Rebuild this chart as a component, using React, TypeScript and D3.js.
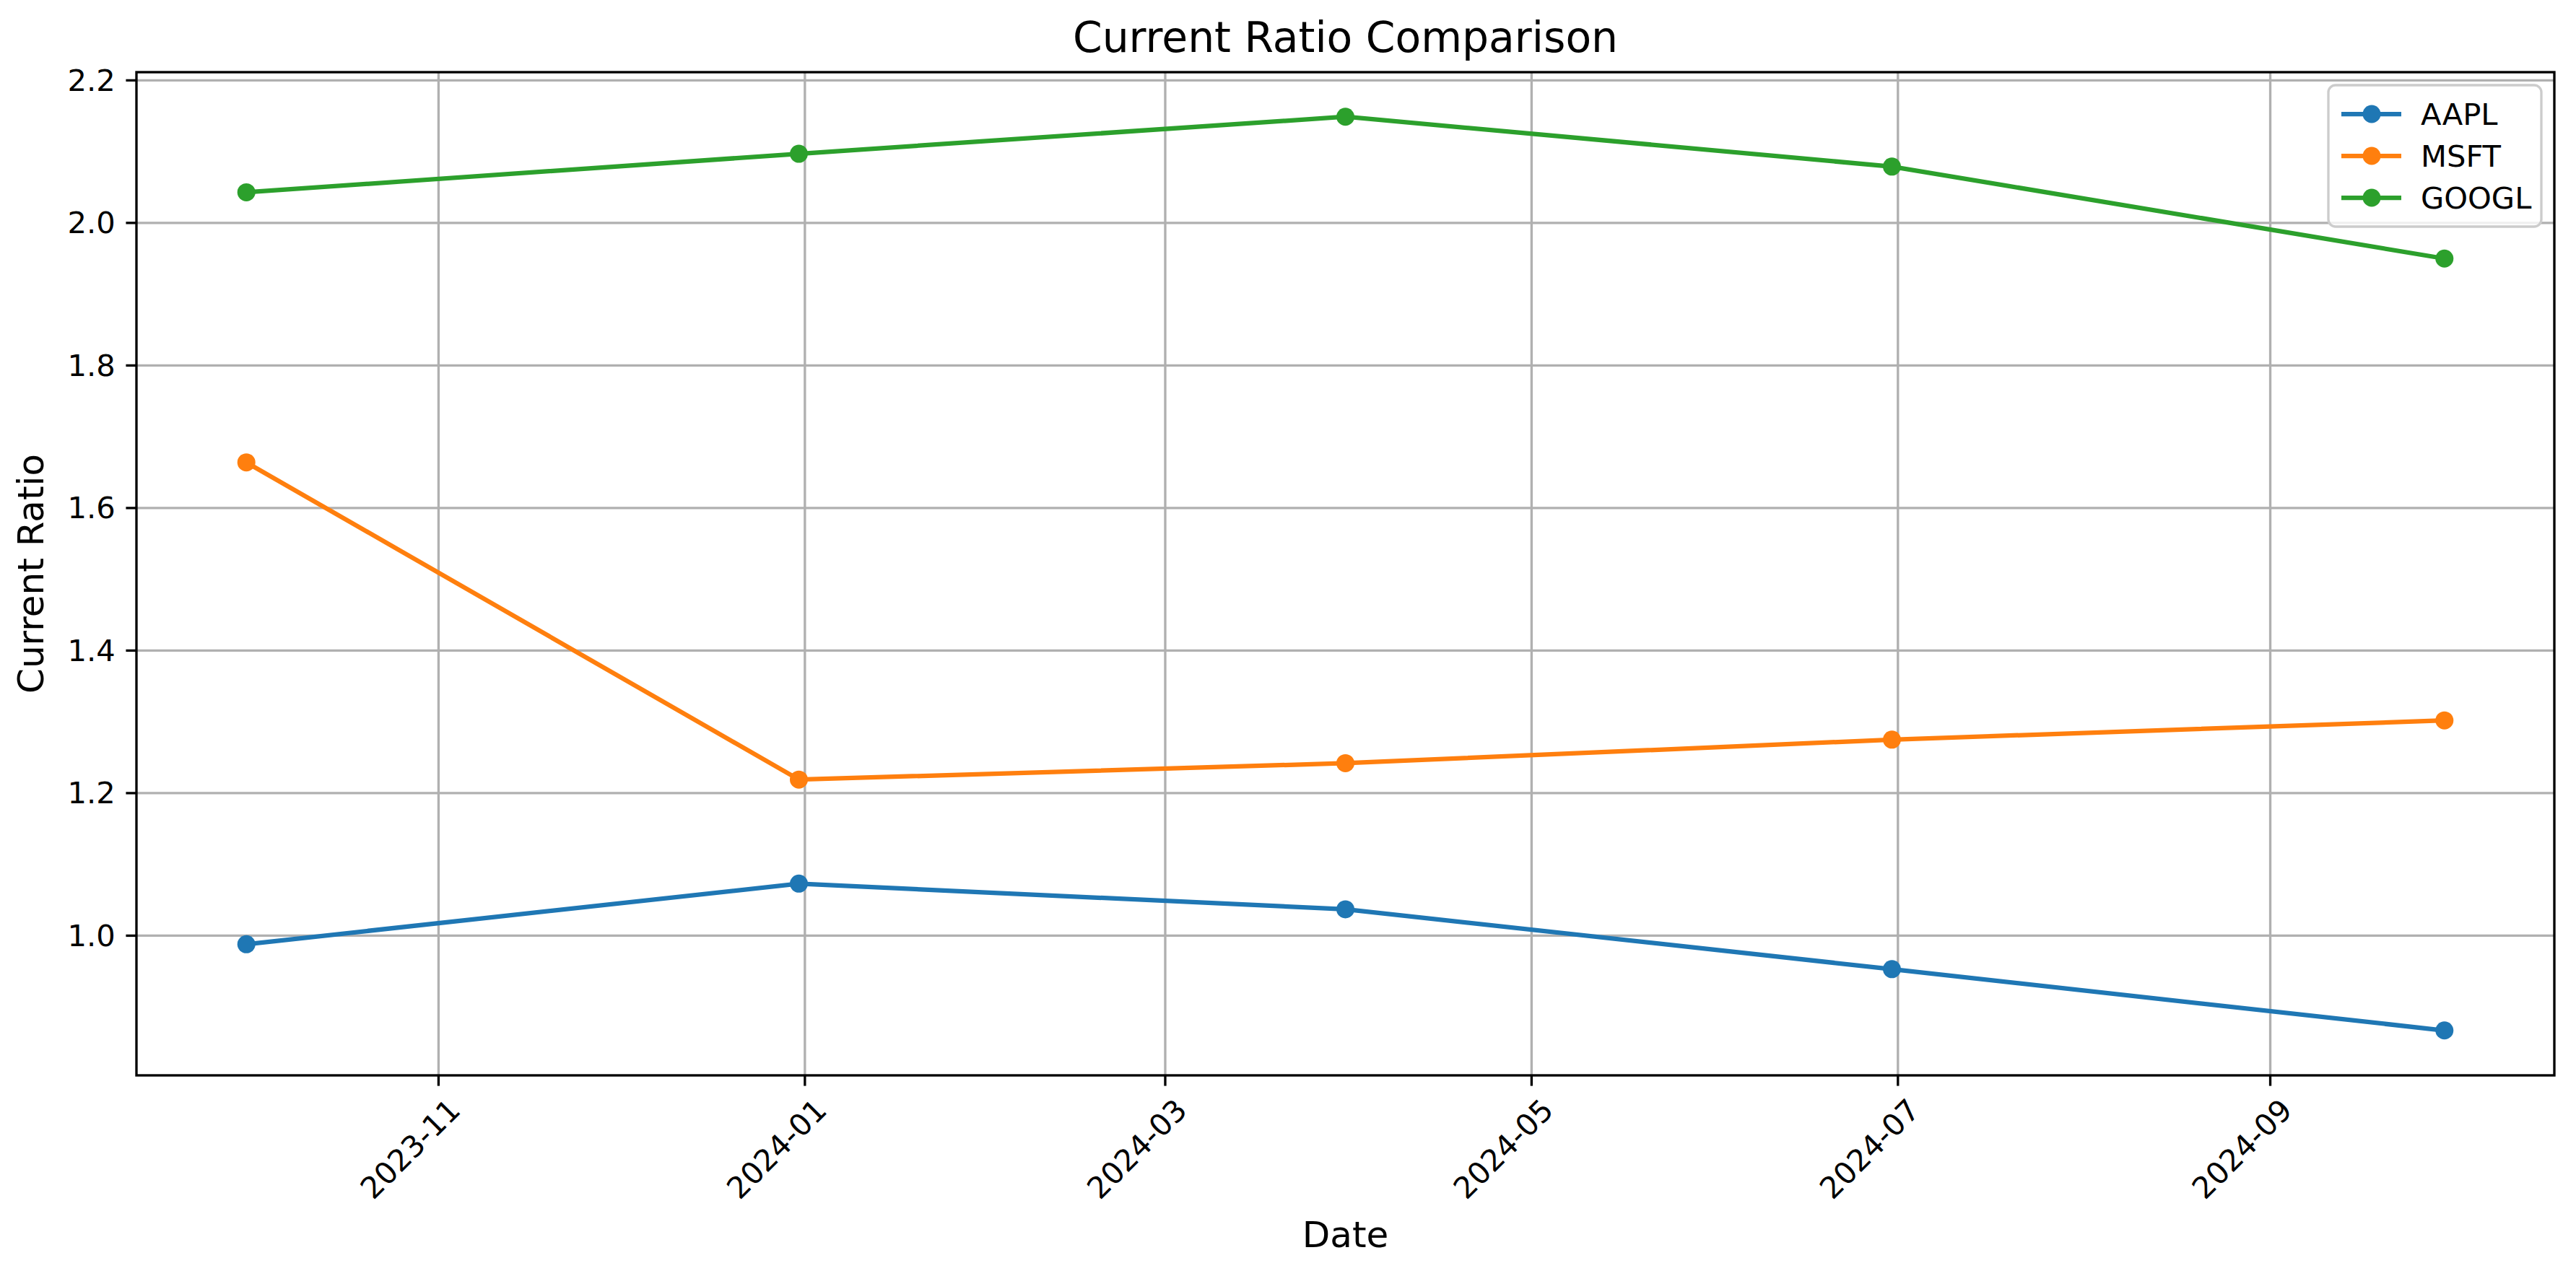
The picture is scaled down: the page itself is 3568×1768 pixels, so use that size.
import { useEffect, useRef } from 'react'
import * as d3 from 'd3'

const dates = ['2023-09-30', '2023-12-31', '2024-03-31', '2024-06-30', '2024-09-30']
const aapl = [0.988, 1.073, 1.037, 0.953, 0.867]
const msft = [1.664, 1.219, 1.242, 1.275, 1.302]
const googl = [2.043, 2.097, 2.149, 2.079, 1.95]
const seriesNames = ['AAPL', 'MSFT', 'GOOGL']
const seriesColors = ['#1f77b4', '#ff7f0e', '#2ca02c']
const xTicks = ['2023-11-01', '2024-01-01', '2024-03-01', '2024-05-01', '2024-07-01', '2024-09-01']
const yTicks = [1.0, 1.2, 1.4, 1.6, 1.8, 2.0, 2.2]

const W = 3568
const H = 1768
const S = 300 / 72
const font = 'DejaVu Sans, sans-serif'

export default function App() {
  const ref = useRef<SVGSVGElement | null>(null)

  useEffect(() => {
    if (!ref.current) {return}
    const svg = d3.select(ref.current)
    svg.selectAll('*').remove()
    const m = { left: 189, right: 3538, top: 100, bottom: 1490 }
    const parse = d3.utcParse('%Y-%m-%d')
    const xs = dates.map((d) => parse(d) as Date)
    const span = +xs[4] - +xs[0]
    const x = d3.scaleUtc()
      .domain([new Date(+xs[0] - span * 0.05), new Date(+xs[4] + span * 0.05)])
      .range([m.left, m.right])
    const y = d3.scaleLinear().domain([0.804, 2.2115]).range([m.bottom, m.top])

    svg.append('rect').attr('width', W).attr('height', H).attr('fill', '#fff')

    const grid = svg.append('g').attr('stroke', '#b0b0b0').attr('stroke-width', 0.8 * S)
    xTicks.forEach((t) => {
      const px = x(parse(t) as Date)
      grid.append('line').attr('x1', px).attr('x2', px).attr('y1', m.top).attr('y2', m.bottom)
    })
    yTicks.forEach((t) => {
      grid.append('line').attr('x1', m.left).attr('x2', m.right).attr('y1', y(t)).attr('y2', y(t))
    })

    const all = [aapl, msft, googl]
    const line = d3.line<number>().x((_, i) => x(xs[i])).y((d) => y(d))
    all.forEach((vals, k) => {
      svg.append('path').attr('d', line(vals)).attr('fill', 'none')
        .attr('stroke', seriesColors[k]).attr('stroke-width', 1.5 * S)
      svg.selectAll(null).data(vals).join('circle')
        .attr('cx', (_, i) => x(xs[i])).attr('cy', (d) => y(d)).attr('r', 3 * S)
        .attr('fill', seriesColors[k])
    })

    svg.append('rect').attr('x', m.left).attr('y', m.top)
      .attr('width', m.right - m.left).attr('height', m.bottom - m.top)
      .attr('fill', 'none').attr('stroke', '#000').attr('stroke-width', 0.8 * S)

    const tickFs = 10 * S
    xTicks.forEach((t) => {
      const px = x(parse(t) as Date)
      svg.append('line').attr('x1', px).attr('x2', px).attr('y1', m.bottom).attr('y2', m.bottom + 3.5 * S)
        .attr('stroke', '#000').attr('stroke-width', 0.8 * S)
      svg.append('text').attr('font-family', font).attr('font-size', tickFs)
        .attr('text-anchor', 'end')
        .attr('transform', `translate(${px + 12},${m.bottom + 30}) rotate(-45)`)
        .attr('dy', '0.7em')
        .text(t.slice(0, 7))
    })
    yTicks.forEach((t) => {
      svg.append('line').attr('x1', m.left - 3.5 * S).attr('x2', m.left).attr('y1', y(t)).attr('y2', y(t))
        .attr('stroke', '#000').attr('stroke-width', 0.8 * S)
      svg.append('text').attr('font-family', font).attr('font-size', tickFs)
        .attr('text-anchor', 'end').attr('dominant-baseline', 'central')
        .attr('x', m.left - 7 * S).attr('y', y(t)).text(t.toFixed(1))
    })

    svg.append('text').attr('font-family', font).attr('font-size', 14 * S)
      .attr('text-anchor', 'middle').attr('x', (m.left + m.right) / 2).attr('y', 72)
      .text('Current Ratio Comparison')
    svg.append('text').attr('font-family', font).attr('font-size', 12 * S)
      .attr('text-anchor', 'middle').attr('x', (m.left + m.right) / 2).attr('y', 1728)
      .text('Date')
    svg.append('text').attr('font-family', font).attr('font-size', 12 * S)
      .attr('text-anchor', 'middle')
      .attr('transform', `translate(60,${(m.top + m.bottom) / 2}) rotate(-90)`)
      .text('Current Ratio')

    const lg = svg.append('g').attr('transform', `translate(${m.right - 313},${m.top + 18})`)
    lg.append('rect').attr('width', 295).attr('height', 196).attr('rx', 10)
      .attr('fill', '#fff').attr('fill-opacity', 0.8).attr('stroke', '#cccccc').attr('stroke-width', 0.8 * S)
    seriesNames.forEach((n, k) => {
      const cy = 40 + k * 58
      lg.append('line').attr('x1', 18).attr('x2', 101).attr('y1', cy).attr('y2', cy)
        .attr('stroke', seriesColors[k]).attr('stroke-width', 1.5 * S)
      lg.append('circle').attr('cx', 60).attr('cy', cy).attr('r', 3 * S).attr('fill', seriesColors[k])
      lg.append('text').attr('font-family', font).attr('font-size', tickFs)
        .attr('x', 128).attr('y', cy).attr('dominant-baseline', 'central').text(n)
    })
  }, [])

  return (
    <svg ref={ref} width={W} height={H} style={{ position: 'absolute', left: 0, top: 0, display: 'block' }} />
  )
}
